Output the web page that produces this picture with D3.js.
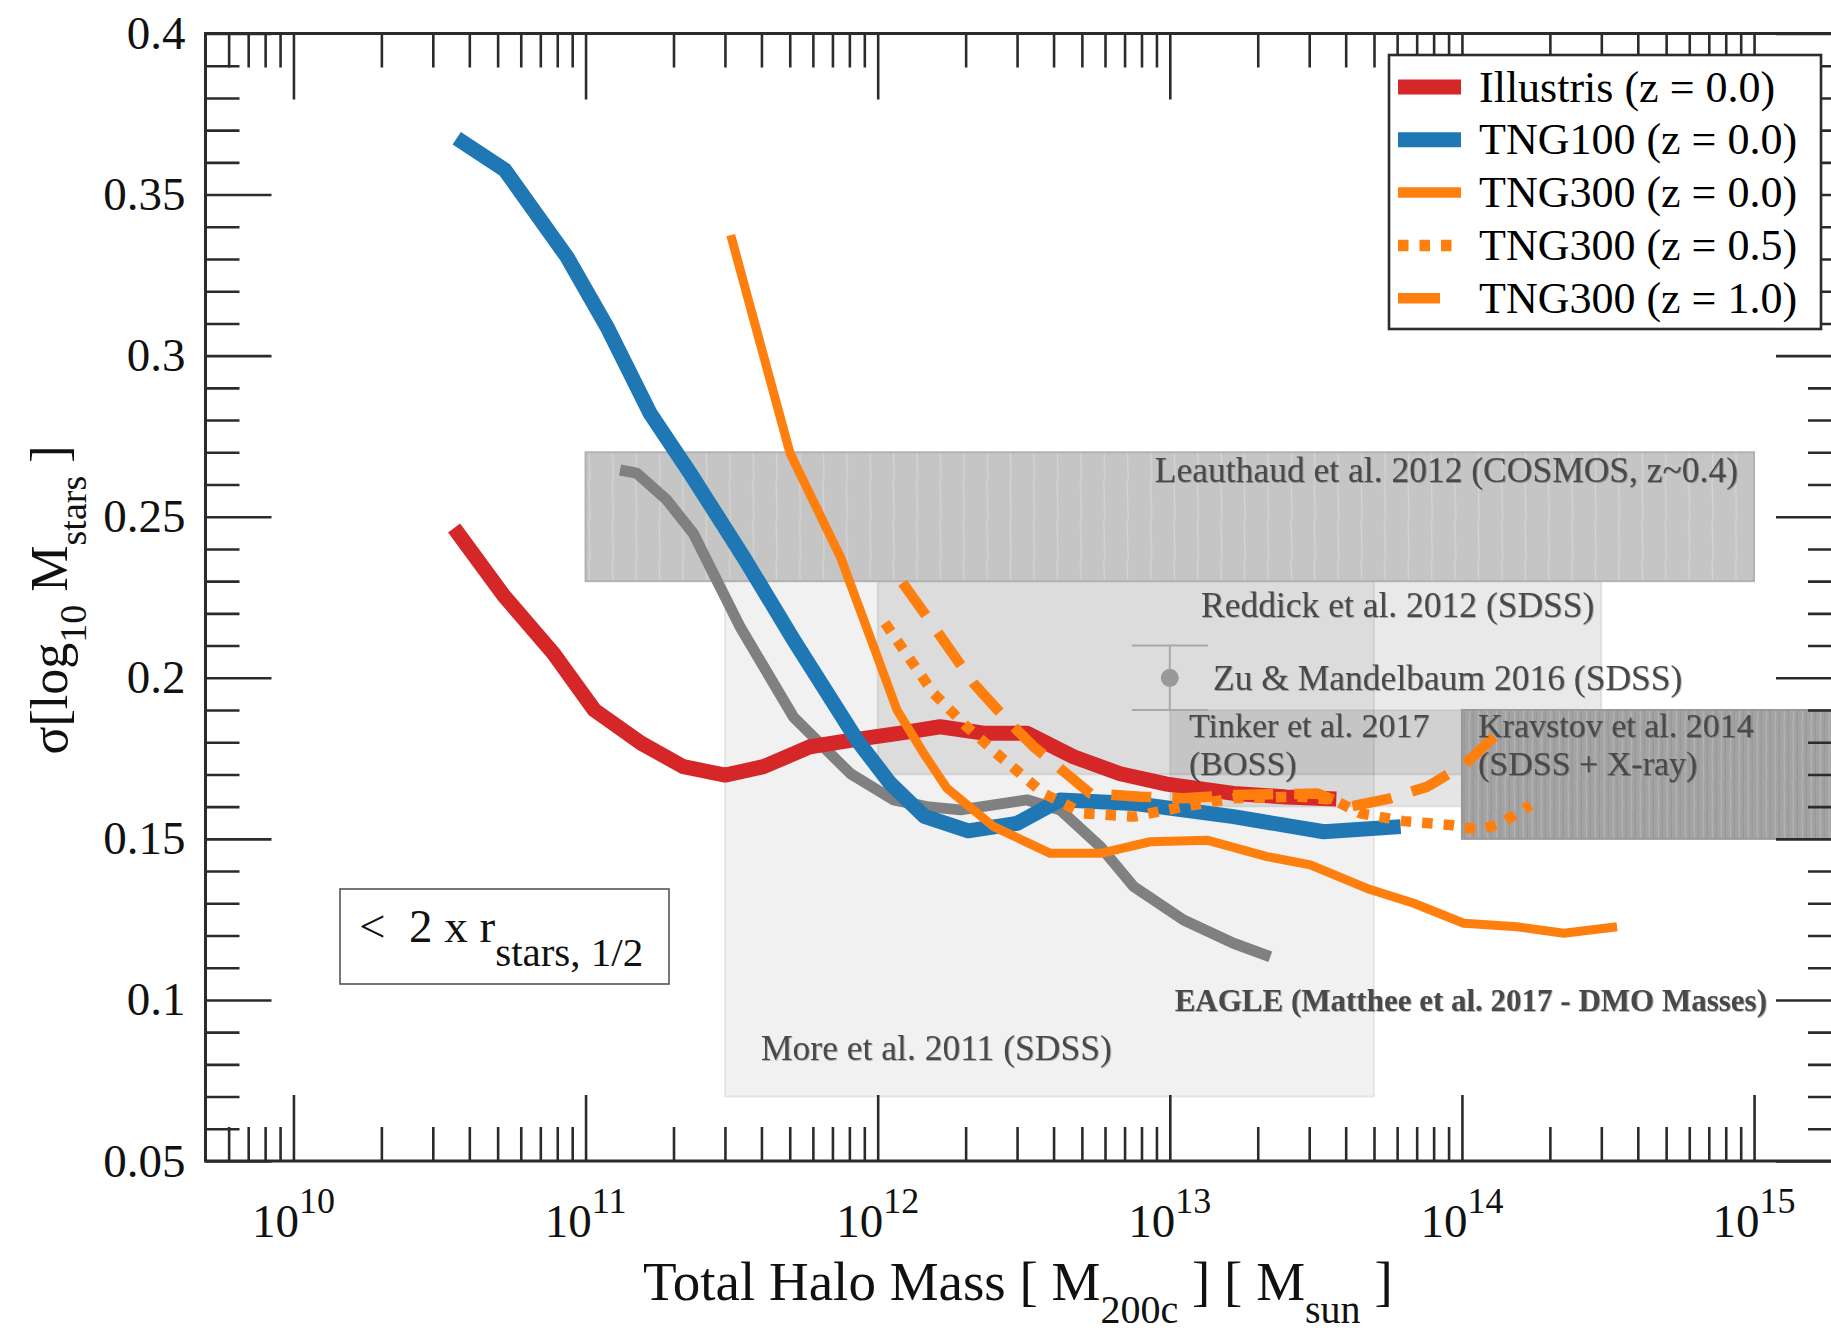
<!DOCTYPE html>
<html>
<head>
<meta charset="utf-8">
<script src="https://cdn.jsdelivr.net/npm/d3@7"></script>
<style>
  body { margin: 0; background: #fff; }
  svg { display: block; }
  text { font-family: "Liberation Serif", "Times New Roman", serif; }
</style>
</head>
<body>
<svg id="chart" width="1831" height="1331"></svg>
<script>
// ---- simulation curves: log10 halo mass and scatter in log10 stellar mass ----
const illustrisLogMass = [10.55, 10.72, 10.89, 11.03, 11.19, 11.335, 11.478, 11.609, 11.769, 11.917, 12.077, 12.214, 12.362, 12.511, 12.67, 12.83, 12.99, 13.218, 13.40, 13.57];
const illustrisSigma   = [0.2465, 0.2255, 0.2076, 0.190, 0.1797, 0.1724, 0.1698, 0.1724, 0.1786, 0.1807, 0.1828, 0.1848, 0.1828, 0.1828, 0.1755, 0.1702, 0.1670, 0.1641, 0.1630, 0.1624];

const tng100LogMass = [10.559, 10.724, 10.936, 11.073, 11.221, 11.358, 11.540, 11.712, 11.929, 12.043, 12.16, 12.31, 12.477, 12.625, 12.876, 13.218, 13.527, 13.79];
const tng100Sigma   = [0.3675, 0.3576, 0.3307, 0.3090, 0.2821, 0.2635, 0.2376, 0.2118, 0.1807, 0.1672, 0.157, 0.1525, 0.1548, 0.1621, 0.1610, 0.1569, 0.1522, 0.1538];

const eagleLogMass = [11.118, 11.175, 11.278, 11.369, 11.529, 11.712, 11.906, 12.054, 12.168, 12.283, 12.511, 12.625, 12.762, 12.876, 13.047, 13.218, 13.344];
const eagleSigma   = [0.2645, 0.2635, 0.2552, 0.2448, 0.2158, 0.1878, 0.1703, 0.1621, 0.1600, 0.1590, 0.1621, 0.159, 0.1476, 0.1352, 0.1248, 0.1176, 0.1134];

const tng300z0LogMass = [11.497, 11.700, 11.872, 11.986, 12.066, 12.157, 12.237, 12.397, 12.591, 12.762, 12.933, 13.127, 13.333, 13.481, 13.675, 13.835, 14.006, 14.189, 14.349, 14.531];
const tng300z0Sigma   = [0.3374, 0.2697, 0.2376, 0.2097, 0.190, 0.1766, 0.1657, 0.1538, 0.1455, 0.1455, 0.1491, 0.1496, 0.1445, 0.1419, 0.1346, 0.130, 0.1238, 0.1227, 0.1207, 0.1227];

const tng300z05LogMass = [12.025, 12.191, 12.305, 12.42, 12.568, 12.705, 12.876, 13.047, 13.218, 13.447, 13.561, 13.653, 13.80, 13.961, 14.063, 14.132, 14.235];
const tng300z05Sigma   = [0.217, 0.1952, 0.1848, 0.1755, 0.1641, 0.1579, 0.1569, 0.160, 0.1626, 0.1631, 0.1621, 0.1579, 0.1555, 0.1543, 0.1528, 0.1548, 0.1605];

const tng300z1LogMass = [12.085, 12.168, 12.328, 12.442, 12.534, 12.728, 12.899, 13.047, 13.218, 13.504, 13.618, 13.755, 13.881, 14.006, 14.110];
const tng300z1Sigma   = [0.2295, 0.2190, 0.1983, 0.1869, 0.1786, 0.1641, 0.1631, 0.1626, 0.1636, 0.1641, 0.160, 0.1626, 0.1662, 0.1729, 0.1817];

const legendLabels = ["Illustris (z = 0.0)", "TNG100 (z = 0.0)", "TNG300 (z = 0.0)", "TNG300 (z = 0.5)", "TNG300 (z = 1.0)"];

// ---- observational constraints: mass range and scatter range ----
const obsNames     = ["More et al. 2011 (SDSS)", "Reddick et al. 2012 (SDSS)", "Tinker et al. 2017", "Leauthaud et al. 2012 (COSMOS, z~0.4)", "Kravstov et al. 2014"];
const obsSubNames  = ["", "", "(BOSS)", "", "(SDSS + X-ray)"];
const obsMassLo    = [3e11, 1e12, 1e13, 1e11, 1e14];
const obsMassHi    = [5e13, 3e14, 1e14, 1e15, 2e15];
const obsSigmaLo   = [0.07, 0.17, 0.16, 0.23, 0.15];
const obsSigmaHi   = [0.23, 0.23, 0.19, 0.27, 0.19];

const zuMass  = [1e13];
const zuSigma = [0.20];
const zuErr   = [0.01];
const zuName  = "Zu & Mandelbaum 2016 (SDSS)";
const eagleNote = "EAGLE (Matthee et al. 2017 - DMO Masses)";

// ---- axis ticks ----
const xTickExponents = [10, 11, 12, 13, 14, 15];
const yTickValues = [0.05, 0.1, 0.15, 0.2, 0.25, 0.3, 0.35, 0.4];
const yTickLabels = ["0.05", "0.1", "0.15", "0.2", "0.25", "0.3", "0.35", "0.4"];

// ---------------------------------------------------------------------------
const svg = d3.select("#chart");
const x = d3.scaleLog().domain([5e9, 2e15]).range([205.5, 1842]);
const y = d3.scaleLinear().domain([0.05, 0.4]).range([1161, 33.5]);
const [L, R] = x.range();
const [B, T] = y.range();
const ink = "#2b2b2b";

const defs = svg.append("defs");
defs.append("clipPath").attr("id", "plotClip")
  .append("rect").attr("x", L).attr("y", T).attr("width", R - L).attr("height", B - T);

// faint vertical streak textures inside the darker bands
const streakA = defs.append("pattern").attr("id", "streakA")
  .attr("patternUnits", "userSpaceOnUse").attr("width", 23.4).attr("height", 40);
streakA.append("rect").attr("width", 23.4).attr("height", 40).attr("fill", "#c5c5c5");
streakA.append("line").attr("x1", 4).attr("x2", 5).attr("y1", 0).attr("y2", 40)
  .attr("stroke", "#fff").attr("stroke-opacity", 0.28).attr("stroke-width", 1.2);
const streakB = defs.append("pattern").attr("id", "streakB")
  .attr("patternUnits", "userSpaceOnUse").attr("width", 9).attr("height", 30);
streakB.append("rect").attr("width", 9).attr("height", 30).attr("fill", "#a3a3a3");
streakB.append("line").attr("x1", 2).attr("x2", 2.6).attr("y1", 0).attr("y2", 30)
  .attr("stroke", "#fff").attr("stroke-opacity", 0.18).attr("stroke-width", 1.2);
streakB.append("line").attr("x1", 6).attr("x2", 6.4).attr("y1", 0).attr("y2", 30)
  .attr("stroke", "#000").attr("stroke-opacity", 0.07).attr("stroke-width", 1.2);

const shadow = defs.append("filter").attr("id", "soft").attr("x", "-5%").attr("y", "-20%").attr("width", "110%").attr("height", "140%");
shadow.append("feDropShadow").attr("dx", 0.8).attr("dy", 0.8).attr("stdDeviation", 0.7)
  .attr("flood-color", "#000").attr("flood-opacity", 0.35);

const plot = svg.append("g").attr("clip-path", "url(#plotClip)");

// ---- constraint bands ----
const obsFill   = ["rgba(0,0,0,0.055)", "rgba(0,0,0,0.085)", "rgba(0,0,0,0.10)", "url(#streakA)", "url(#streakB)"];
const obsStroke = ["rgba(0,0,0,0.07)", "rgba(0,0,0,0.08)", "rgba(0,0,0,0.06)", "#b2b2b2", "#999"];
plot.append("g").selectAll("rect")
  .data(d3.range(obsNames.length))
  .join("rect")
  .attr("x", i => x(obsMassLo[i]))
  .attr("y", i => y(obsSigmaHi[i]))
  .attr("width", i => x(obsMassHi[i]) - x(obsMassLo[i]))
  .attr("height", i => y(obsSigmaLo[i]) - y(obsSigmaHi[i]))
  .attr("fill", i => obsFill[i])
  .attr("stroke", i => obsStroke[i])
  .attr("stroke-width", 2);

// ---- Zu & Mandelbaum point with error bar ----
const capHalfDex = 0.13;
const zu = plot.append("g").attr("stroke", "#a8a8a8").attr("stroke-width", 2);
zuMass.forEach((m, i) => {
  zu.append("line").attr("x1", x(m)).attr("x2", x(m))
    .attr("y1", y(zuSigma[i] + zuErr[i])).attr("y2", y(zuSigma[i] - zuErr[i]));
  [zuSigma[i] + zuErr[i], zuSigma[i] - zuErr[i]].forEach(s => {
    zu.append("line")
      .attr("x1", x(m / Math.pow(10, capHalfDex))).attr("x2", x(m * Math.pow(10, capHalfDex)))
      .attr("y1", y(s)).attr("y2", y(s));
  });
  zu.append("circle").attr("cx", x(m)).attr("cy", y(zuSigma[i])).attr("r", 9)
    .attr("fill", "#999").attr("stroke", "none");
});

// ---- band labels (two-line labels set a little smaller so the lines clear) ----
const obsLabelGroup = svg.append("g")
  .attr("font-size", 35.5).attr("fill", "#4a4a4a").attr("filter", "url(#soft)");
const obsLabelPos = [
  { x: 761, y: 1060, anchor: "start" },
  { x: 1201, y: 617, anchor: "start" },
  { x: 1189, y: 737, anchor: "start" },
  { x: 1738, y: 482, anchor: "end" },
  { x: 1478, y: 737, anchor: "start" }
];
obsNames.forEach((name, i) => {
  const p = obsLabelPos[i];
  const t = obsLabelGroup.append("text").attr("x", p.x).attr("y", p.y)
    .attr("text-anchor", p.anchor);
  if (obsSubNames[i]) t.attr("font-size", 34);
  t.append("tspan").text(name);
  if (obsSubNames[i]) {
    t.append("tspan").attr("x", p.x).attr("dy", 38).text(obsSubNames[i]);
  }
});
obsLabelGroup.append("text").attr("x", 1213).attr("y", 690).text(zuName);
obsLabelGroup.append("text").attr("x", 1767).attr("y", 1011)
  .attr("text-anchor", "end").attr("font-weight", "bold").attr("font-size", 31)
  .text(eagleNote);

// ---- simulation curves ----
const line = d3.line().x(d => x(Math.pow(10, d[0]))).y(d => y(d[1]));
const zipSeries = (lm, s) => lm.map((v, i) => [v, s[i]]);
const curves = [
  { data: zipSeries(eagleLogMass, eagleSigma), color: "#808080", width: 11, dash: null },
  { data: zipSeries(illustrisLogMass, illustrisSigma), color: "#d62728", width: 15, dash: null },
  { data: zipSeries(tng100LogMass, tng100Sigma), color: "#1f77b4", width: 15, dash: null },
  { data: zipSeries(tng300z0LogMass, tng300z0Sigma), color: "#ff7f0e", width: 9, dash: null },
  { data: zipSeries(tng300z05LogMass, tng300z05Sigma), color: "#ff7f0e", width: 10.5, dash: "10.5,11" },
  { data: zipSeries(tng300z1LogMass, tng300z1Sigma), color: "#ff7f0e", width: 10.5, dash: "40,21" }
];
plot.append("g").selectAll("path")
  .data(curves)
  .join("path")
  .attr("d", c => line(c.data))
  .attr("fill", "none")
  .attr("stroke", c => c.color)
  .attr("stroke-width", c => c.width)
  .attr("stroke-dasharray", c => c.dash)
  .attr("stroke-linejoin", "round")
  .attr("stroke-linecap", "butt");

// ---- axes: inward ticks on all four sides ----
const xMajor = xTickExponents.map(e => Math.pow(10, e));
const xMinor = [];
for (let e = 9; e <= 15; e++) {
  for (let m = 2; m <= 9; m++) {
    const v = m * Math.pow(10, e);
    if (v > x.domain()[0] && v < x.domain()[1]) xMinor.push(v);
  }
}
const yMinor = d3.range(5, 41).filter(k => k % 5 !== 0).map(k => k / 100);
const majorLen = 66, minorLen = 34;

function tickAxis(axisFn, scale, values, len, tx, ty) {
  const g = svg.append("g").attr("transform", `translate(${tx},${ty})`)
    .call(axisFn(scale).tickValues(values).tickSize(-len).tickFormat(""));
  g.select(".domain").remove();
  g.selectAll(".tick line").attr("stroke", ink).attr("stroke-width", 2.6);
  return g;
}
tickAxis(d3.axisBottom, x, xMajor, majorLen, 0, B);
tickAxis(d3.axisBottom, x, xMinor, minorLen, 0, B);
tickAxis(d3.axisTop, x, xMajor, majorLen, 0, T);
tickAxis(d3.axisTop, x, xMinor, minorLen, 0, T);
tickAxis(d3.axisLeft, y, yTickValues, majorLen, L, 0);
tickAxis(d3.axisLeft, y, yMinor, minorLen, L, 0);
tickAxis(d3.axisRight, y, yTickValues, majorLen, R, 0);
tickAxis(d3.axisRight, y, yMinor, minorLen, R, 0);

// frame
svg.append("rect").attr("x", L).attr("y", T).attr("width", R - L).attr("height", B - T)
  .attr("fill", "none").attr("stroke", ink).attr("stroke-width", 3);

// y tick labels
const yLabels = svg.append("g").attr("transform", `translate(${L},0)`)
  .call(d3.axisLeft(y).tickValues(yTickValues).tickSize(0).tickPadding(20)
    .tickFormat((d, i) => yTickLabels[i]));
yLabels.select(".domain").remove();
yLabels.selectAll("text").attr("font-size", 47).attr("fill", "#111")
  .attr("font-family", "'Liberation Serif', 'Times New Roman', serif");

// x tick labels: 10 with superscript exponent
const xLabels = svg.append("g").attr("font-size", 47).attr("fill", "#111");
xTickExponents.forEach(e => {
  const t = xLabels.append("text").attr("x", x(Math.pow(10, e))).attr("y", 1237)
    .attr("text-anchor", "middle");
  t.append("tspan").text("10");
  t.append("tspan").attr("font-size", 36).attr("dy", -24).text(String(e));
});

// axis titles
const xTitle = svg.append("text").attr("x", 643).attr("y", 1300)
  .attr("font-size", 55).attr("fill", "#111");
xTitle.append("tspan").text("Total Halo Mass [ M");
xTitle.append("tspan").attr("font-size", 40).attr("dy", 23).text("200c");
xTitle.append("tspan").attr("dy", -23).text(" ] [ M");
xTitle.append("tspan").attr("font-size", 40).attr("dy", 23).text("sun");
xTitle.append("tspan").attr("dy", -23).text(" ]");

const yTitle = svg.append("text").attr("transform", "translate(67,600) rotate(-90)")
  .attr("text-anchor", "middle").attr("font-size", 52).attr("fill", "#111");
yTitle.append("tspan").text("\u03c3[log");
yTitle.append("tspan").attr("font-size", 38).attr("dy", 19).text("10");
yTitle.append("tspan").attr("dy", -19).text(" M");
yTitle.append("tspan").attr("font-size", 38).attr("dy", 19).text("stars");
yTitle.append("tspan").attr("dy", -19).text(" ]");

// aperture note box
svg.append("rect").attr("x", 340).attr("y", 889).attr("width", 329).attr("height", 95)
  .attr("fill", "#fff").attr("stroke", "#555").attr("stroke-width", 1.6);
const note = svg.append("text").attr("x", 359).attr("y", 942).attr("font-size", 47).attr("fill", "#111");
note.append("tspan").text("<\u00a0 2 x r");
note.append("tspan").attr("font-size", 41).attr("dy", 24).text("stars, 1/2");

// ---- legend ----
const legend = svg.append("g");
legend.append("rect").attr("x", 1389).attr("y", 55).attr("width", 432).attr("height", 274)
  .attr("fill", "#fff").attr("stroke", ink).attr("stroke-width", 2.6);
const legendSwatch = [
  { color: "#d62728", width: 15, len: 63, dash: null },
  { color: "#1f77b4", width: 15, len: 63, dash: null },
  { color: "#ff7f0e", width: 10.5, len: 63, dash: null },
  { color: "#ff7f0e", width: 11.5, len: 63, dash: "10.5,11" },
  { color: "#ff7f0e", width: 10.5, len: 42, dash: null }
];
legendLabels.forEach((lab, i) => {
  const base = 101.5 + i * 52.8;
  const s = legendSwatch[i];
  legend.append("line").attr("x1", 1398).attr("x2", 1398 + s.len)
    .attr("y1", base - 14.5).attr("y2", base - 14.5)
    .attr("stroke", s.color).attr("stroke-width", s.width)
    .attr("stroke-dasharray", s.dash);
  legend.append("text").attr("x", 1479).attr("y", base)
    .attr("font-size", 44).attr("fill", "#000").text(lab);
});
</script>
</body>
</html>
